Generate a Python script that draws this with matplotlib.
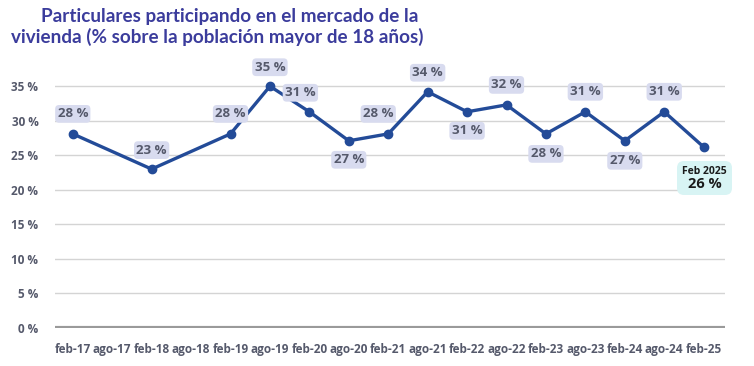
import numpy as np
import matplotlib.pyplot as plt
from matplotlib.ticker import FuncFormatter
from matplotlib.offsetbox import TextArea, VPacker, AnnotationBbox

periods = ["feb-17", "ago-17", "feb-18", "ago-18", "feb-19", "ago-19", "feb-20", "ago-20",
           "feb-21", "ago-21", "feb-22", "ago-22", "feb-23", "ago-23", "feb-24", "ago-24", "feb-25"]
# no survey value for ago-17 and ago-18
values = [28.1, None, 23.0, None, 28.1, 35.0, 31.3, 27.1,
          28.1, 34.2, 31.3, 32.3, 28.1, 31.3, 27.1, 31.3, 26.2]
# label offset in pixels (dx, dy) per point
label_pos = [(0, 20), None, (0, 19), None, (0, 20), (0, 19), (-9, 19), (0, -19),
             (-10, 20), (0, 19), (0, -19), (0, 20), (0, -20), (0, 20), (0, -20), (0, 20), None]
last_label = "Feb 2025"
title_lines = ["Particulares participando en el mercado de la",
               "vivienda (% sobre la población mayor de 18 años)"]

line_color = "#234b98"
title_color = "#3b3c9c"
text_gray = "#55596b"

x = [i for i, v in enumerate(values) if v is not None]
y = [v for v in values if v is not None]

fig = plt.figure(figsize=(7.54, 3.66), dpi=100)
ax = fig.add_axes([0.073, 0.104, 0.889, 0.717])

ax.plot(x, y, color=line_color, lw=2.4, marker="o", ms=6, zorder=3)

for xi, yi in zip(x, y):
    off = label_pos[xi]
    if off is None:
        continue
    ax.annotate(f"{yi:.0f} %", (xi, yi), xytext=off, textcoords="offset pixels",
                ha="center", va="center", fontsize=9.5, fontweight="bold", color=text_gray,
                family="Open Sans",
                bbox=dict(boxstyle="round,pad=0.18,rounding_size=0.3", fc="#d8dbef", ec="none"),
                zorder=4)

# highlighted last value
top = TextArea(last_label, textprops=dict(fontsize=7.5, fontweight="bold", color="#1a1a1a", family="Open Sans"))
bottom = TextArea(f"{y[-1]:.0f} %", textprops=dict(fontsize=10.5, fontweight="bold", color="#1a1a1a", family="Open Sans"))
pack = VPacker(children=[top, bottom], align="center", pad=0, sep=0)
ab = AnnotationBbox(pack, (x[-1], y[-1]), xybox=(1, -31), boxcoords="offset pixels",
                    frameon=True, pad=0.35,
                    bboxprops=dict(boxstyle="round,pad=0.35,rounding_size=0.5", fc="#d8f4f4", ec="none"),
                    zorder=4)
ax.add_artist(ab)

ax.set_xlim(-0.45, len(periods) - 0.45)
ax.set_ylim(0, 38)
ax.set_yticks(np.arange(0, 36, 5))
ax.yaxis.set_major_formatter(FuncFormatter(lambda v, p: f"{v:.0f} %"))
ax.set_xticks(range(len(periods)))
ax.set_xticklabels(periods)
ax.grid(axis="y", color="#d4d4d4", lw=1)
ax.set_axisbelow(True)
ax.axhline(0, color="#9a9a9a", lw=3, zorder=2)
for s in ax.spines.values():
    s.set_visible(False)
ax.tick_params(length=0, labelsize=8.5, labelcolor=text_gray, pad=11)
ax.tick_params(axis="y", pad=12)
for lab in ax.get_xticklabels() + ax.get_yticklabels():
    lab.set_fontweight("bold")
    lab.set_family("Open Sans")

fig.text(0.305, 0.94, title_lines[0], ha="center", va="baseline", fontsize=13.6,
         fontweight="bold", color=title_color, family="Lato")
fig.text(0.288, 0.882, title_lines[1], ha="center", va="baseline", fontsize=13.6,
         fontweight="bold", color=title_color, family="Lato")

fig.savefig("out.png", dpi=100)
